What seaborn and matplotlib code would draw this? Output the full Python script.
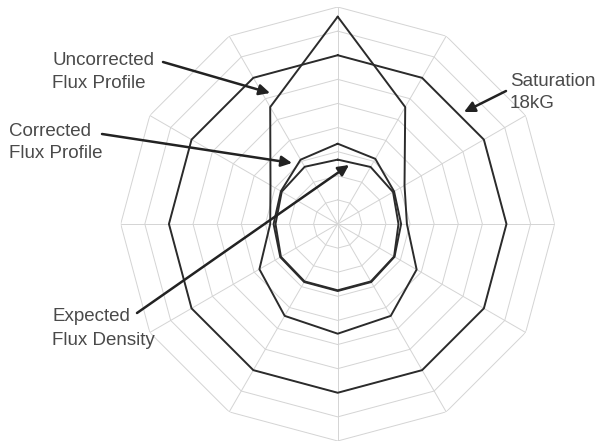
import numpy as np
import pandas as pd
import matplotlib
matplotlib.use("Agg")
import matplotlib.pyplot as plt
import seaborn as sns

# ---- data (ring units, 12 directions clockwise from top) ----
directions = ["0", "30", "60", "90", "120", "150", "180", "210", "240", "270", "300", "330"]
saturation = [7.0, 7.0, 7.0, 7.0, 7.0, 7.0, 7.0, 7.0, 7.0, 7.0, 7.0, 7.0]
uncorrected = [8.6, 5.6, 3.2, 2.87, 3.78, 4.4, 4.55, 4.4, 3.75, 2.8, 3.22, 5.6]
corrected = [3.33, 3.12, 2.7, 2.63, 2.72, 2.78, 2.78, 2.78, 2.75, 2.66, 2.72, 3.08]
expected = [2.67, 2.73, 2.65, 2.52, 2.7, 2.75, 2.75, 2.75, 2.72, 2.58, 2.68, 2.74]
n_rings = 9

series = {
    "Saturation 18kG": saturation,
    "Uncorrected Flux Profile": uncorrected,
    "Corrected Flux Profile": corrected,
    "Expected Flux Density": expected,
}

sns.set_style("white")
plt.rcParams["font.family"] = ["Liberation Sans", "DejaVu Sans"]

n = len(directions)
theta = np.deg2rad([float(d) for d in directions])
theta_closed = np.append(theta, 2 * np.pi)

rows = []
for name, vals in series.items():
    vv = list(vals) + [vals[0]]
    for t, v in zip(theta_closed, vv):
        rows.append({"series": name, "theta": t, "r": v})
df = pd.DataFrame(rows)

fig = plt.figure(figsize=(6.0, 4.47), dpi=100)
ax = fig.add_axes([0.2012, 0.0134, 0.7233, 0.971], projection="polar")
ax.set_theta_zero_location("N")
ax.set_theta_direction(-1)

# polygonal grid
grid_c = "#d4d4d4"
for k in range(1, n_rings + 1):
    ax.plot(theta_closed, [k] * (n + 1), color=grid_c, lw=0.7, zorder=1)
for t in theta:
    ax.plot([t, t], [0, n_rings], color=grid_c, lw=0.7, zorder=1)

sns.lineplot(data=df, x="theta", y="r", hue="series", sort=False, estimator=None,
             palette=["#2b2b2b"] * 4, legend=False, lw=1.4, ax=ax, zorder=3)

ax.set_ylim(0, n_rings)
ax.set_xticks([])
ax.set_yticks([])
ax.grid(False)
ax.spines["polar"].set_visible(False)
ax.set_xlabel("")
ax.set_ylabel("")

H = 447
txt_c = "#4a4a4a"
fs = 13.5
# (text, (left x, first-line baseline y), (second-line baseline y), arrow start, arrow tip)
labels = [
    (("Uncorrected", "Flux Profile"), 52, (65, 88), (163, 62), (270, 93)),
    (("Corrected", "Flux Profile"), 9, (136, 158), (102, 134), (292, 163)),
    (("Expected", "Flux Density"), 52, (321, 345), (137, 313), (349, 165)),
    (("Saturation", "18kG"), 510, (86, 108), (506, 91), (464, 112)),
]
for lines, tx, ys, (x0, y0), (x1, y1) in labels:
    for line, ty in zip(lines, ys):
        fig.text(tx / 600, (H - ty) / H, line, fontsize=fs, color=txt_c,
                 ha="left", va="baseline", transform=fig.transFigure)
    ax.annotate("", xy=(x1, H - y1), xycoords="figure pixels",
                xytext=(x0, H - y0), textcoords="figure pixels",
                arrowprops=dict(arrowstyle="-|>", color="#222222", lw=1.8,
                                mutation_scale=16, shrinkA=0, shrinkB=0),
                annotation_clip=False, zorder=5)

fig.savefig("out.png", dpi=100)
